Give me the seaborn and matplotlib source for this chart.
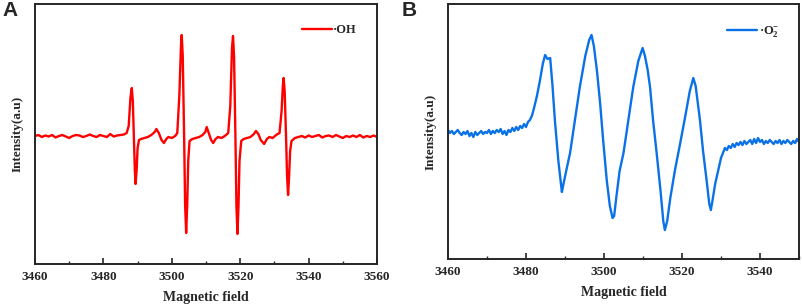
import seaborn as sns
import matplotlib.pyplot as plt
import pandas as pd
from matplotlib.ticker import MultipleLocator

# EPR spectrum A (.OH, DMPO adduct) - field (G) and intensity (a.u.)
field_a = [3460, 3461, 3462, 3463, 3464, 3465, 3466, 3467, 3468, 3469,
           3470, 3471, 3472, 3473, 3474, 3475, 3476, 3477, 3478, 3479,
           3480, 3481, 3482, 3483, 3484, 3485, 3486, 3486.8, 3487.4, 3487.9,
           3488.3, 3488.6, 3488.9, 3489.2, 3489.4, 3489.7, 3490.0, 3490.4, 3491, 3492,
           3493, 3494, 3495, 3495.5, 3496.2, 3497, 3497.7, 3498.4, 3499, 3500,
           3501, 3501.6, 3502.2, 3502.7, 3502.9, 3503.2, 3503.6, 3503.9, 3504.2, 3504.5,
           3504.8, 3505.2, 3506, 3507, 3508, 3509, 3509.8, 3510.2, 3510.7, 3511.5,
           3512.1, 3512.8, 3513.5, 3514.5, 3515.5, 3516.5, 3517.1, 3517.6, 3517.9, 3518.2,
           3518.6, 3518.9, 3519.2, 3519.5, 3519.8, 3520.3, 3521, 3522, 3523, 3524,
           3524.6, 3525.3, 3526, 3527, 3527.8, 3528.5, 3529.5, 3530.5, 3531.5, 3532.1,
           3532.5, 3532.7, 3533, 3533.4, 3533.7, 3534, 3534.3, 3534.6, 3535, 3536,
           3537, 3538, 3539, 3540, 3541, 3542, 3543, 3544, 3545, 3546,
           3547, 3548, 3549, 3550, 3551, 3552, 3553, 3554, 3555, 3556,
           3557, 3558, 3559, 3560]
int_a = [0, 1, -1, 0.5, -0.5, 1, -1.5, 0, 1, -0.5,
         -2, 0, 1, 0.5, -1, 0, 1.5, 0, -1, 1,
         0, -1, 2, -0.5, 0.5, 1, 1.5, 3, 10, 38,
         48, 35, 0, -35, -48, -35, -12, -4, -3, -2,
         -1, 1, 4, 7, 3, -4, -7, -3, -1, -2,
         0, 3, 40, 92, 101, 80, 0, -70, -97, -70,
         -25, -5, -3, -2, -1, 1, 4, 9, 4, -4,
         -7, -3, -1, -2, 0, 3, 30, 88, 100, 80,
         0, -70, -98, -70, -25, -5, -3, -2, -1, 2,
         5, 2, -4, -8, -3, -1, -2, 1, 3, 25,
         52, 58, 45, 0, -40, -59, -40, -15, -5, -2,
         -1, 0, -1.5, 0.5, -1, 0, 1, -1.5, 0, 0.5,
         -1, 1, -0.5, -2, 0, -1, 0.5, -1, 1, -1.5,
         0, -1, 0.5, -1]

# EPR spectrum B (.O2-, DMPO adduct)
field_b = [3460, 3460.5, 3461, 3461.5, 3462, 3462.5, 3463, 3463.5, 3464, 3464.5,
           3465, 3465.5, 3466, 3466.5, 3467, 3467.5, 3468, 3468.5, 3469, 3469.5,
           3470, 3470.5, 3471, 3471.5, 3472, 3472.5, 3473, 3473.5, 3474, 3474.5,
           3475, 3475.5, 3476, 3476.5, 3477, 3477.5, 3478, 3478.5, 3479, 3479.5,
           3480, 3480.5, 3481, 3481.5, 3482, 3482.8, 3483.6, 3484.3, 3484.9, 3485.5,
           3486.2, 3486.8, 3487.4, 3488.3, 3489.2, 3489.5, 3490.3, 3491.3, 3492.5, 3493.8,
           3495.2, 3496.2, 3496.8, 3497.4, 3498.2, 3499, 3499.8, 3500.7, 3501.5, 3502.2,
           3502.6, 3503.2, 3504, 3505, 3506.2, 3507.5, 3508.8, 3509.9, 3510.5, 3511.2,
           3511.8, 3512.6, 3513.5, 3514.5, 3515.2, 3515.6, 3516.2, 3517, 3518.2, 3519.5,
           3520.8, 3522, 3522.9, 3523.5, 3524.6, 3525.4, 3526.3, 3527, 3527.4, 3527.8,
           3528.5, 3529.3, 3530, 3531, 3531.5, 3532, 3532.5, 3533, 3533.5, 3534,
           3534.5, 3535, 3535.5, 3536, 3536.5, 3537, 3537.5, 3538, 3538.5, 3539,
           3539.5, 3540, 3540.5, 3541, 3541.5, 3542, 3542.5, 3543, 3543.5, 3544,
           3544.5, 3545, 3545.5, 3546, 3546.5, 3547, 3547.5, 3548, 3548.5, 3549,
           3549.5, 3550]
int_b = [6, 3, 5, 2, 4, 6, 3, 1, 4, 2,
         5, 0, 3, -1, 4, 1, 3, 5, 2, 4,
         3, 6, 2, 5, 3, 6, 4, 7, 2, 5,
         1, 6, 4, 8, 5, 9, 6, 10, 8, 12,
         9, 14, 16, 20, 27, 40, 56, 72, 81, 77,
         78, 50, 16, -25, -56, -50, -35, -17, 15, 49,
         80, 96, 101, 90, 65, 33, -5, -44, -70, -82,
         -80, -60, -35, -17, 15, 49, 75, 88, 80, 66,
         49, 15, -17, -55, -85, -94, -85, -62, -34, -8,
         19, 45, 58, 50, 16, -15, -44, -68, -74, -65,
         -48, -34, -22, -12, -14, -10, -12, -8, -11, -7,
         -9, -6, -9, -5, -8, -6, -4, -8, -3, -7,
         -2, -6, -4, -8, -5, -7, -4, -6, -8, -5,
         -7, -4, -8, -5, -7, -4, -6, -8, -5, -7,
         -3, -6]

df_a = pd.DataFrame({'field': field_a, 'intensity': int_a})
df_b = pd.DataFrame({'field': field_b, 'intensity': int_b})

sns.set_style('ticks')
plt.rcParams['font.family'] = ['Liberation Serif', 'DejaVu Serif']
plt.rcParams['font.weight'] = 'bold'
plt.rcParams['mathtext.default'] = 'regular'

fig = plt.figure(figsize=(8.03, 3.07), dpi=100)
ax1 = fig.add_axes([35 / 803, 43 / 307, 342 / 803, 260 / 307])
ax2 = fig.add_axes([448 / 803, 48 / 307, 351 / 803, 255 / 307])

sns.lineplot(data=df_a, x='field', y='intensity', ax=ax1, color='#ff0000',
             linewidth=1.7, estimator=None, sort=False, label='·OH')
sns.lineplot(data=df_b, x='field', y='intensity', ax=ax2, color='#0a72e6',
             linewidth=1.7, estimator=None, sort=False, label='·O$_2^{-}$')

ax1.set_xlim(3460, 3560)
ax1.set_ylim(-128, 132)
ax2.set_xlim(3460, 3550)
ax2.set_ylim(-123, 132)

for ax in (ax1, ax2):
    ax.set_xlabel('Magnetic field', fontsize=10, fontweight='bold', labelpad=6)
    ax.set_ylabel('Intensity(a.u)', fontsize=9.5, fontweight='bold', labelpad=8)
    ax.xaxis.set_major_locator(MultipleLocator(20))
    ax.xaxis.set_minor_locator(MultipleLocator(10))
    ax.set_yticks([])
    ax.tick_params(axis='x', which='major', direction='in', length=4, width=1.2,
                   labelsize=9.5, pad=5)
    ax.tick_params(axis='x', which='minor', direction='in', length=2, width=1.0)
    for lab in ax.get_xticklabels():
        lab.set_fontweight('bold')
    for sp in ax.spines.values():
        sp.set_visible(True)
        sp.set_linewidth(1.4)
    ax.legend(loc='upper right', frameon=False, handlelength=2.4, handletextpad=0.1,
              borderaxespad=1.2, prop={'family': 'Liberation Serif', 'weight': 'bold', 'size': 9})

fig.text(2 / 803, 1 - 1 / 307, 'A', fontsize=15, fontweight='bold',
         family='Liberation Sans', va='top', ha='left')
fig.text(402 / 803, 1 - 1 / 307, 'B', fontsize=15, fontweight='bold',
         family='Liberation Sans', va='top', ha='left')

fig.savefig('out.png', dpi=100)
